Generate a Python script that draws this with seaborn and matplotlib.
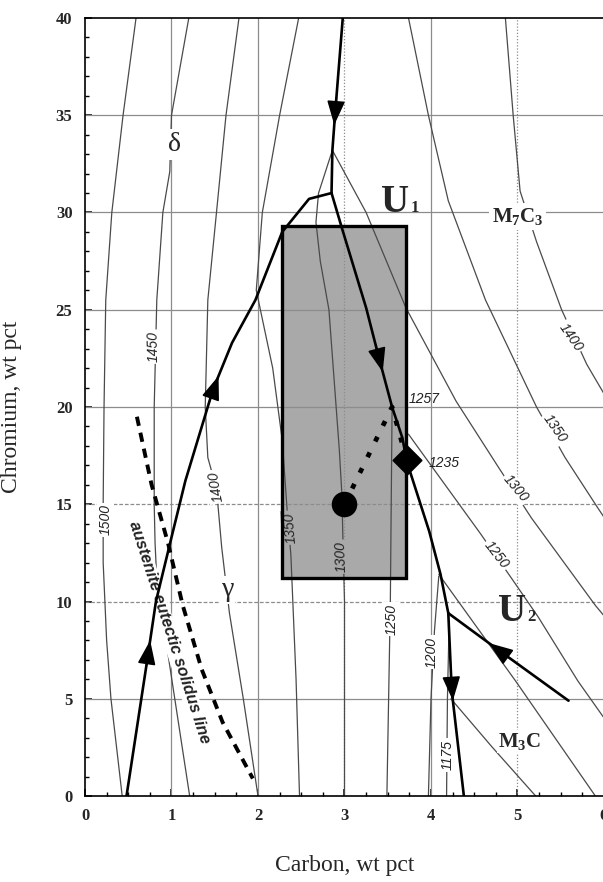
import numpy as np
import pandas as pd
import matplotlib
matplotlib.use("Agg")
import matplotlib.pyplot as plt
from matplotlib.patches import Rectangle
import seaborn as sns

# ---------------- axes ----------------
carbon_ticks = [0, 1, 2, 3, 4, 5, 6]
chromium_ticks = [0, 5, 10, 15, 20, 25, 30, 35, 40]
grid_solid_c = [1, 2, 4]
grid_dotted_c = [3, 5]
grid_solid_cr = [5, 20, 25, 30, 35]
grid_dashed_cr = [10, 15]

# ---------------- liquidus isotherms (C wt%, Cr wt%) ----------------
iso_1500_c = [0.59, 0.44, 0.31, 0.24, 0.22, 0.21, 0.21, 0.25, 0.30, 0.43]
iso_1500_cr = [40, 35, 30, 25.5, 20, 15, 12, 8, 5, 0]

iso_1450_c = [1.20, 1.00, 0.98, 0.90, 0.83, 0.80, 0.80, 0.81, 0.83, 1.00, 1.21]
iso_1450_cr = [40, 35, 32.1, 30, 25.5, 20, 15, 13, 11.1, 6.1, 0]

iso_1400_c = [1.78, 1.63, 1.52, 1.42, 1.39, 1.42, 1.52, 1.58, 1.67, 1.83, 2.00]
iso_1400_cr = [40, 35, 30, 25.5, 20, 17.4, 15.8, 12.8, 9.4, 5, 0]

iso_1350_c = [2.47, 2.25, 2.05, 1.98, 2.17, 2.28, 2.34, 2.38, 2.44, 2.48]
iso_1350_cr = [40, 35, 30, 26, 22, 18.3, 14.5, 12.4, 6, 0]

iso_1300_c = [2.86, 2.70, 2.67, 2.72, 2.82, 2.94, 2.97, 2.98, 3.00, 3.00]
iso_1300_cr = [33.2, 31, 29.5, 27.5, 25, 17.8, 15.5, 13.5, 10, 0]

iso_1250_c = [3.55, 3.54, 3.53, 3.51, 3.49]
iso_1250_cr = [19.9, 15, 10, 5, 0]

iso_1200_c = [4.09, 4.04, 4.00, 3.97]
iso_1200_cr = [11.3, 8.5, 5, 0]

iso_1175_c = [4.21, 4.19, 4.18]
iso_1175_cr = [9.0, 5, 0]

m3c_1175_c = [4.23, 4.70, 5.21]
m3c_1175_cr = [5.0, 2.55, 0]

m_1200_c = [4.09, 4.98, 5.90]
m_1200_cr = [11.4, 5.9, 0]

m_1250_c = [3.74, 4.00, 4.57, 4.93, 5.24, 5.70, 6.05]
m_1250_cr = [18.6, 17.0, 13.5, 11.2, 9.2, 5.9, 3.7]

m_1300_c = [2.86, 3.25, 3.71, 4.29, 4.78, 5.16, 5.90, 6.05]
m_1300_cr = [33.2, 30, 25.1, 20.3, 16.9, 14.3, 9.8, 9.0]

m_1350_c = [3.74, 3.97, 4.20, 4.63, 5.22, 5.55, 5.93, 6.05]
m_1350_cr = [40, 35, 30.6, 25.5, 20, 17.4, 14.8, 14.0]

m_1400_c = [4.86, 4.95, 5.03, 5.22, 5.51, 5.80, 6.05]
m_1400_cr = [40, 35, 31.1, 28.5, 25, 22.2, 20.3]

# ---------------- solidification paths (eutectic valleys) ----------------
path_left_c = [0.48, 0.73, 0.82, 1.00, 1.16, 1.48, 1.70, 1.97, 2.28, 2.59, 2.85]
path_left_cr = [0, 7.3, 10, 13.3, 16.2, 20.9, 23.3, 25.5, 29.0, 30.7, 31.0]

path_top_c = [2.98, 2.89, 2.86, 2.85]
path_top_cr = [40, 35, 33.2, 31.0]

path_mid_c = [2.85, 2.97, 3.25, 3.40, 3.55, 3.67, 3.72, 3.98, 4.11, 4.20]
path_mid_cr = [31.0, 29.2, 25.1, 22.5, 20.0, 18.4, 17.2, 13.6, 11.4, 9.4]

path_down_c = [4.20, 4.24, 4.38]
path_down_cr = [9.4, 5.4, 0]

path_right_c = [4.20, 4.75, 5.59]
path_right_cr = [9.4, 7.6, 4.9]

# austenite eutectic solidus (dashed)
solidus_c = [0.60, 0.77, 0.96, 1.13, 1.35, 1.59, 1.94]
solidus_cr = [19.5, 16.0, 13.0, 9.8, 6.5, 3.8, 0.9]

# alloy composition window and points
window_c = [2.28, 3.71]
window_cr = [11.2, 29.3]
alloy_c, alloy_cr = [3.0], [15.0]
alloy_end_c, alloy_end_cr = [3.72], [17.3]
tie_c = [3.0, 3.55, 3.70]
tie_cr = [15.0, 20.0, 17.6]

# ---------------- style ----------------
sns.set_theme(style="white")
plt.rcParams.update({
    "font.family": ["Liberation Serif", "DejaVu Serif"],
    "mathtext.fontset": "custom",
    "mathtext.rm": "Liberation Serif",
    "mathtext.bf": "Liberation Serif:bold",
    "axes.linewidth": 1.2,
})

ISO = "#4a4a4a"
GRID = "#8c8c8c"
BOXGRAY = "#a9a9a9"

fig = plt.figure(figsize=(6.03, 8.82), dpi=100)
ax = fig.add_axes([85 / 603, 1 - 796 / 882, 519 / 603, 778 / 882])
ax.set_xlim(0, 6)
ax.set_ylim(0, 40)

# grid
for c in grid_solid_c:
    ax.axvline(c, color=GRID, lw=0.9, zorder=1.2)
for c in grid_dotted_c:
    ax.axvline(c, color=GRID, lw=0.9, ls=(0, (1, 1.5)), zorder=1.2)
for cr in grid_solid_cr:
    ax.axhline(cr, color=GRID, lw=0.9, zorder=1.2)
for cr in grid_dashed_cr:
    ax.axhline(cr, color=GRID, lw=0.9, ls=(0, (3, 1.5)), zorder=1.2)

# composition window: fill below the grid, frame above the labels
win_xy = (window_c[0], window_cr[0])
win_w = window_c[1] - window_c[0]
win_h = window_cr[1] - window_cr[0]
ax.add_patch(Rectangle(win_xy, win_w, win_h, fc=BOXGRAY, ec="none", zorder=1.0))
ax.add_patch(Rectangle(win_xy, win_w, win_h, fc="none", ec="black", lw=2.4, zorder=2.8))


def line(c, cr, **kw):
    sns.lineplot(x=c, y=cr, sort=False, estimator=None, ax=ax, legend=False, **kw)


isotherms = [
    (iso_1500_c, iso_1500_cr), (iso_1450_c, iso_1450_cr), (iso_1400_c, iso_1400_cr),
    (iso_1350_c, iso_1350_cr), (iso_1300_c, iso_1300_cr), (iso_1250_c, iso_1250_cr),
    (iso_1200_c, iso_1200_cr), (iso_1175_c, iso_1175_cr), (m3c_1175_c, m3c_1175_cr),
    (m_1200_c, m_1200_cr), (m_1250_c, m_1250_cr), (m_1300_c, m_1300_cr),
    (m_1350_c, m_1350_cr), (m_1400_c, m_1400_cr),
]
for c, cr in isotherms:
    line(c, cr, color=ISO, lw=0.9, zorder=2)

# isotherm labels
lab_kw = dict(family=["Liberation Sans", "DejaVu Sans"], style="italic",
              fontsize=10, color="#222222", ha="center", va="center", zorder=2.5)
white_bg = dict(boxstyle="square,pad=0.12", fc="white", ec="none")
gray_bg = dict(boxstyle="square,pad=0.12", fc=BOXGRAY, ec="none")
iso_labels = [
    ("1500", 0.24, 14.2, 90, white_bg),
    ("1450", 0.79, 23.1, 91, white_bg),
    ("1400", 1.51, 15.9, 100, white_bg),
    ("1350", 2.37, 13.8, 95, gray_bg),
    ("1300", 2.96, 12.3, 92, gray_bg),
    ("1250", 3.54, 9.1, 90, white_bg),
    ("1200", 4.01, 7.4, 90, white_bg),
    ("1175", 4.19, 2.1, 90, white_bg),
    ("1250", 4.76, 12.4, -52, white_bg),
    ("1300", 4.98, 15.8, -50, white_bg),
    ("1350", 5.43, 18.9, -55, white_bg),
    ("1400", 5.62, 23.6, -55, white_bg),
]
for txt, x, y, rot, bg in iso_labels:
    ax.text(x, y, txt, rotation=rot, rotation_mode="anchor", bbox=bg, **lab_kw)

# solidus line and its label
ax.text(0.97, 8.4, "austenite eutectic solidus line", rotation=-72,
        rotation_mode="anchor", ha="center", va="center", fontsize=11.8,
        family=["Liberation Sans", "DejaVu Sans"], style="italic", weight="bold",
        color="#222222", zorder=2.6,
        bbox=dict(boxstyle="square,pad=0.05", fc="white", ec="none"))
line(solidus_c, solidus_cr, color="black", lw=2.8, ls=(0, (2.4, 1.8)), zorder=3)

# solidification paths
for c, cr in [(path_left_c, path_left_cr), (path_top_c, path_top_cr),
              (path_mid_c, path_mid_cr), (path_down_c, path_down_cr),
              (path_right_c, path_right_cr)]:
    line(c, cr, color="black", lw=1.9, zorder=3)


def arrow(c, cr, at, use_cr=True, sign=1):
    c = np.asarray(c, float)
    cr = np.asarray(cr, float)
    key = cr if use_cr else c
    order = np.argsort(key)
    d = 0.7 if use_cr else 0.07

    def pt(k):
        return (np.interp(k, key[order], c[order]), np.interp(k, key[order], cr[order]))
    ax.annotate("", xy=pt(at + sign * d), xytext=pt(at - sign * d),
                arrowprops=dict(arrowstyle="-|>,head_length=0.75,head_width=0.28",
                                color="black", lw=1.2, shrinkA=0, shrinkB=0,
                                mutation_scale=20), zorder=4)


arrow(path_top_c, path_top_cr, 35.2, sign=-1)
arrow(path_left_c, path_left_cr, 7.3, sign=1)
arrow(path_left_c, path_left_cr, 20.9, sign=1)
arrow(path_mid_c, path_mid_cr, 22.5, sign=-1)
arrow(path_down_c, path_down_cr, 5.6, sign=-1)
arrow(path_right_c, path_right_cr, 4.74, use_cr=False, sign=-1)

# alloy path
line(tie_c, tie_cr, color="black", lw=3.4, ls=(0, (1.1, 2.6)), zorder=4)
sns.scatterplot(x=alloy_c, y=alloy_cr, ax=ax, s=290, color="black", marker="o",
                edgecolor="black", zorder=5, legend=False)
sns.scatterplot(x=alloy_end_c, y=alloy_end_cr, ax=ax, s=210, color="black", marker="D",
                edgecolor="black", zorder=5, legend=False)

pt_kw = dict(family=["Liberation Sans", "DejaVu Sans"], style="italic", fontsize=10,
             color="#222222", ha="left", va="center", zorder=4)
ax.text(3.74, 20.4, "1257", **pt_kw)
ax.text(3.97, 17.1, "1235", **pt_kw)

# phase field labels
ax.text(1.04, 33.5, "δ", fontsize=20, ha="center", va="center", zorder=2.6,
        bbox=dict(boxstyle="square,pad=0.1", fc="white", ec="none"))
ax.text(1.65, 10.6, "γ", fontsize=20, ha="center", va="center", zorder=2.6,
        bbox=dict(boxstyle="square,pad=0.05", fc="white", ec="none"))
ax.text(5.0, 29.8, r"$\mathbf{M_7C_3}$", fontsize=15, ha="center", va="center",
        zorder=2.6, bbox=dict(boxstyle="square,pad=0.15", fc="white", ec="none"))
ax.text(5.02, 2.8, r"$\mathbf{M_3C}$", fontsize=15, ha="center", va="center",
        zorder=2.6, bbox=dict(boxstyle="square,pad=0.05", fc="white", ec="none"))
ax.text(3.58, 30.0, "U", fontsize=28, weight="bold", ha="center", va="baseline", zorder=4)
ax.text(3.76, 30.0, "1", fontsize=12, weight="bold", ha="left", va="baseline", zorder=4)
ax.text(4.94, 9.0, "U", fontsize=28, weight="bold", ha="center", va="baseline", zorder=4)
ax.text(5.11, 9.0, "2", fontsize=12, weight="bold", ha="left", va="baseline", zorder=4)

# axes
ax.set_xticks(carbon_ticks)
ax.set_yticks(chromium_ticks)
ax.set_xticks(np.arange(0, 6.01, 0.25), minor=True)
ax.set_yticks(np.arange(0, 40.1, 1), minor=True)
ax.tick_params(which="major", direction="in", length=5, width=1.1, color="black",
               labelsize=12, pad=9, bottom=True, left=True, top=False, right=False)
ax.tick_params(which="minor", direction="in", length=3, width=1.0, color="black",
               bottom=True, left=True, top=False, right=False)
for lbl in ax.get_xticklabels() + ax.get_yticklabels():
    lbl.set_fontweight("bold")
for s in ax.spines.values():
    s.set_color("black")
    s.set_zorder(6)
ax.set_xlabel("Carbon, wt pct", fontsize=17, labelpad=22)
ax.set_ylabel("Chromium, wt pct", fontsize=17, labelpad=24)

fig.savefig("out.png", dpi=100)
